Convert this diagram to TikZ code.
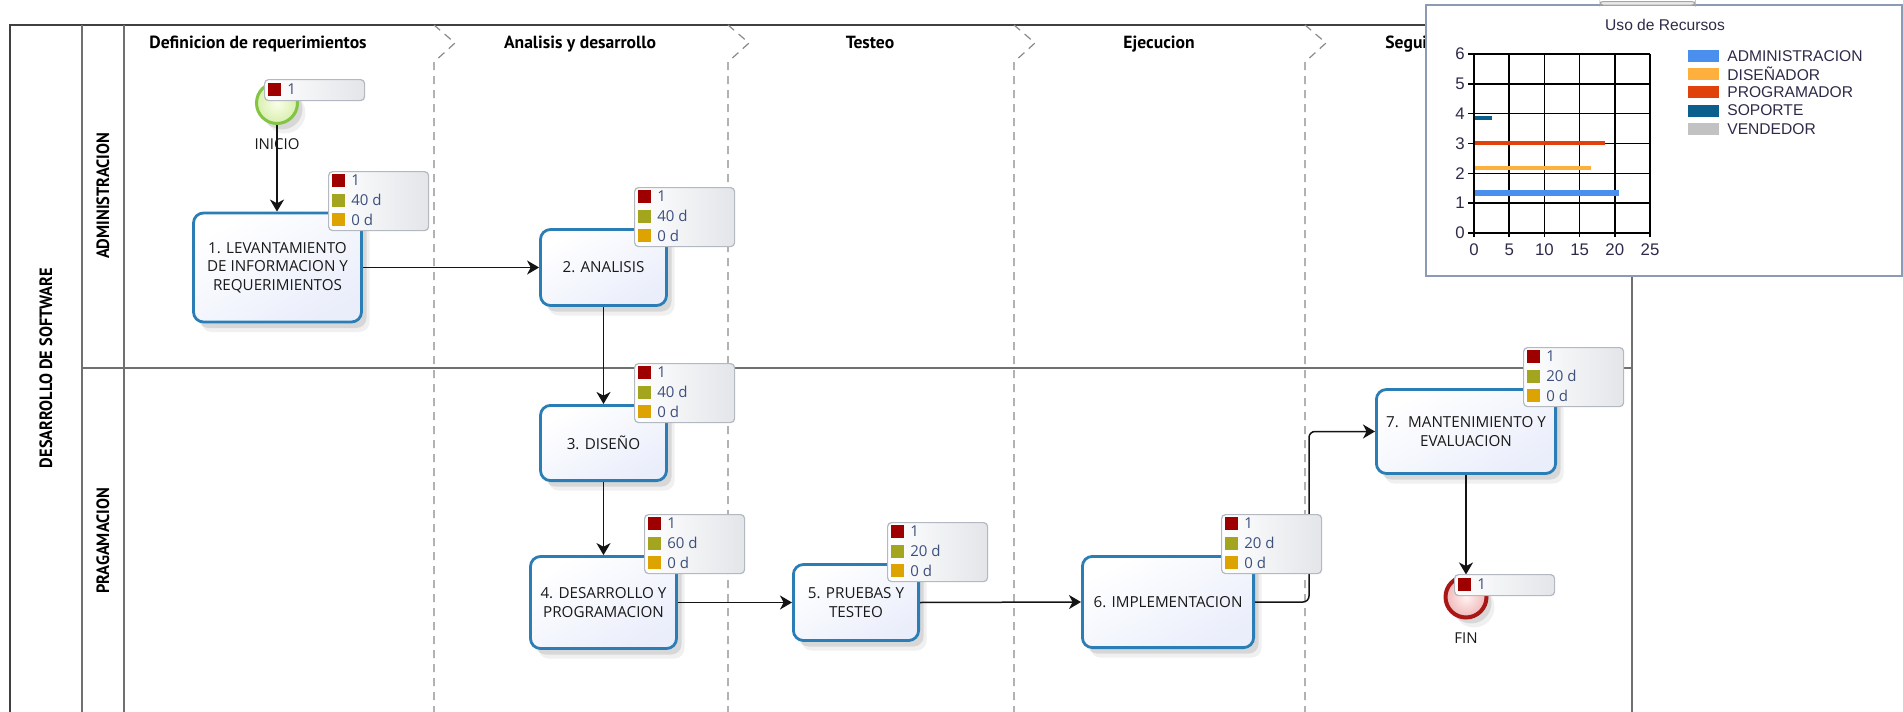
\documentclass[tikz,border=0pt]{standalone}
\usepackage{fontspec}
\setmainfont{Open Sans}
\newfontfamily\headfont{PT Sans}
\newfontfamily\lanefont[FakeStretch=0.92]{PT Sans}
\newfontfamily\chartfont{Liberation Sans}
\usetikzlibrary{arrows.meta,shadows,calc}

\definecolor{poolgray}{HTML}{707070}
\definecolor{phasegray}{HTML}{8A8A8A}
\definecolor{taskblue}{HTML}{2A7DB5}
\definecolor{tasklav}{HTML}{EAEEFB}
\definecolor{badgeline}{HTML}{B4B8C0}
\definecolor{badgegray}{HTML}{E3E5E9}
\definecolor{badgeink}{HTML}{3D4F7C}
\definecolor{resred}{HTML}{9E0000}
\definecolor{resolive}{HTML}{A3A51E}
\definecolor{resamber}{HTML}{DDA300}
\definecolor{startgreen}{HTML}{84C443}
\definecolor{startin}{HTML}{FBFDE8}
\definecolor{startout}{HTML}{D8EFAE}
\definecolor{endred}{HTML}{A81616}
\definecolor{endin}{HTML}{FFF2F2}
\definecolor{endout}{HTML}{F0B8B8}
\definecolor{chartblue}{HTML}{8C9BB2}
\definecolor{chartink}{HTML}{2F2A48}
\definecolor{barblue}{HTML}{4A8EEE}
\definecolor{barorange}{HTML}{FDB03E}
\definecolor{barred}{HTML}{E0420C}
\definecolor{barnavy}{HTML}{0B5F8D}
\definecolor{bargray}{HTML}{C2C2C2}

\tikzset{
  poolframe/.style={draw=black!75, line width=0.9pt},
  poolline/.style={draw=poolgray, line width=0.7pt},
  phasesep/.style={draw=phasegray, line width=0.6pt, dash pattern=on 4pt off 3pt},
  phasetitle/.style={font=\headfont\bfseries\fontsize{8.8}{10}\selectfont, inner sep=0pt, anchor=base},
  lanelabel/.style={font=\lanefont\bfseries\fontsize{8.9}{10}\selectfont, rotate=90, inner sep=0pt},
  softshadow/.style={
    drop shadow={shadow xshift=2.5pt, shadow yshift=-3pt, opacity=.10, fill=black},
    drop shadow={shadow xshift=4pt, shadow yshift=-5pt, opacity=.06, fill=black}},
  task/.style={draw=taskblue, line width=1.4pt, rounded corners=5pt,
    top color=white, bottom color=tasklav, shading angle=30,
    align=center, font=\fontsize{7.6}{9.3}\selectfont, text=black!90,
    inner sep=0pt, softshadow},
  startevent/.style={circle, draw=startgreen, line width=1.5pt, inner color=startin,
    outer color=startout, minimum size=20.5pt, inner sep=0pt, softshadow},
  endevent/.style={circle, draw=endred, line width=2pt, inner color=endin,
    outer color=endout, minimum size=20.5pt, inner sep=0pt, softshadow},
  evlabel/.style={font=\fontsize{7.5}{9}\selectfont, inner sep=0pt, text=black!90},
  flow/.style={draw=black!92, line width=0.75pt, -{Stealth[length=6pt,width=7pt,inset=1.8pt]}},
  badge/.style={draw=badgeline, line width=0.6pt, rounded corners=2pt,
    left color=white, right color=badgegray, inner sep=0pt, anchor=north west},
  swatch/.style={minimum size=6.5pt, inner sep=0pt, draw=none},
  btext/.style={text=badgeink, font=\fontsize{7.5}{8}\selectfont, inner sep=0pt, anchor=west},
  chartframe/.style={draw=chartblue, line width=1pt, fill=white},
  chartgrid/.style={draw=black, line width=0.8pt},
  charttext/.style={font=\chartfont\fontsize{7.8}{9}\selectfont, text=chartink, inner sep=0pt},
  axislab/.style={font=\chartfont\fontsize{8.4}{9}\selectfont, text=chartink, inner sep=0pt},
  bar/.style={line width=2.1pt},
}

% resource badge with three rows: name, top-left corner, three values
\newcommand{\tribadge}[5]{%
  \node[badge, minimum width=50pt, minimum height=29.5pt] (#1) at #2 {};
  \node[swatch, fill=resred]   (#1-sa) at ($(#1.north west)+(10.5,9.5)$) {};
  \node[swatch, fill=resolive] (#1-sb) at ($(#1.north west)+(10.5,29)$) {};
  \node[swatch, fill=resamber] (#1-sc) at ($(#1.north west)+(10.5,48.5)$) {};
  \node[btext] (#1-ta) at ($(#1.north west)+(23,9.5)$) {#3};
  \node[btext] (#1-tb) at ($(#1.north west)+(23,29)$) {#4};
  \node[btext] (#1-tc) at ($(#1.north west)+(23,48.5)$) {#5};
}
% resource badge with one row: name, top-left corner, value
\newcommand{\onebadge}[3]{%
  \node[badge, minimum width=50pt, minimum height=10.5pt] (#1) at #2 {};
  \node[swatch, fill=resred] (#1-sa) at ($(#1.north west)+(10.5,10.5)$) {};
  \node[btext] (#1-ta) at ($(#1.north west)+(23,10.5)$) {#3};
}

\begin{document}
\begin{tikzpicture}[x=0.5pt,y=-0.5pt]
\useasboundingbox (0,0) rectangle (1903,712);
\fill[white] (0,0) rectangle (1903,712);

% pool, lanes
\draw[poolframe] (10,712) -- (10,25) -- (1632,25);
\draw[poolline] (1632,25) -- (1632,712);
\draw[poolline] (82,25) -- (82,712);
\draw[poolline] (124,25) -- (124,712);
\draw[poolline] (82,368) -- (1632,368);

% phase separators
\foreach \d in {434,728,1014,1305}
  \draw[phasesep] (\d,25) -- (\d+21,43) -- (\d,62) -- (\d,712);

% phase titles
\node[phasetitle] (ph1) at (258,48) {Definicion de requerimientos};
\node[phasetitle] (ph2) at (580,48) {Analisis y desarrollo};
\node[phasetitle] (ph3) at (870,48) {Testeo};
\node[phasetitle] (ph4) at (1159,48) {Ejecucion};
\node[phasetitle, anchor=base west] (ph5) at (1385,48) {Segui};

% pool and lane names
\node[lanelabel] (poolname) at (46,368) {DESARROLLO DE SOFTWARE};
\node[lanelabel] (lane1) at (103,196) {ADMINISTRACION};
\node[lanelabel] (lane2) at (103,541) {PRAGAMACION};

% events
\node[startevent] (start) at (277,103) {};
\node[endevent] (finevent) at (1466,597) {};
\node[evlabel] (startlab) at (277,144) {INICIO};
\node[evlabel] (finlab) at (1466,638) {FIN};

% tasks
\node[task, minimum width=84pt, minimum height=54.5pt] (t1) at (277.5,267.5)
  {1. LEVANTAMIENTO\\DE INFORMACION Y\\REQUERIMIENTOS};
\node[task, minimum width=63pt, minimum height=38pt] (t2) at (603.5,267.5) {2. ANALISIS};
\node[task, minimum width=63pt, minimum height=37.6pt] (t3) at (603.5,443) {3. DISEÑO};
\node[task, minimum width=73pt, minimum height=46pt] (t4) at (603.5,602.5)
  {4. DESARROLLO Y\\PROGRAMACION};
\node[task, minimum width=62.6pt, minimum height=38pt] (t5) at (856,602.5)
  {5. PRUEBAS Y\\TESTEO};
\node[task, minimum width=85.6pt, minimum height=45.6pt] (t6) at (1168,602) {6. IMPLEMENTACION};
\node[task, minimum width=89.6pt, minimum height=42pt] (t7) at (1466,431.5)
  {7.~ MANTENIMIENTO Y\\EVALUACION};

% sequence flows
\draw[flow] (start.south) -- (start.south |- t1.north);
\draw[flow] (t1.east) -- (t2.west);
\draw[flow] (t2.south) -- (t3.north);
\draw[flow] (t3.south) -- (t4.north);
\draw[flow] (t4.east) -- (t5.west);
\draw[flow] (t5.east) -- (t6.west);
\draw[flow, rounded corners=3pt] (t6.east) -- ++(54,0) |- (t7.west);
\draw[flow] (t7.south) -- (finevent.north);

% resource badges
\onebadge{b0}{(264,79)}{1}
\tribadge{b1}{(328,171)}{1}{40 d}{0 d}
\tribadge{b2}{(634,187)}{1}{40 d}{0 d}
\tribadge{b3}{(634,363)}{1}{40 d}{0 d}
\tribadge{b4}{(644,514)}{1}{60 d}{0 d}
\tribadge{b5}{(887,522)}{1}{20 d}{0 d}
\tribadge{b6}{(1221,514)}{1}{20 d}{0 d}
\tribadge{b7}{(1523,347)}{1}{20 d}{0 d}
\onebadge{bf}{(1454,574)}{1}

% resource usage chart
\draw[chartframe] (1426,5) rectangle (1902,276);
\draw[draw=black!35, fill=black!8, line width=0.5pt, rounded corners=1.5pt] (1600,1.5) rectangle (1695,5);
\node[charttext] (ctitle) at (1665,25) {Uso de Recursos};
\begin{scope}[shift={(1474,233)}, x=3.52pt, y=14.915pt]
  \foreach \v in {0,5,...,25} {
    \draw[chartgrid] (\v,-0.14) -- (\v,6);
    \node[axislab] (xl\v) at (\v,-0.57) {\v};
  }
  \foreach \v in {0,...,6} {
    \draw[chartgrid] (-0.85,\v) -- (25,\v);
    \node[axislab, anchor=east] (yl\v) at (-1.25,\v) {\v};
  }
  \draw[bar, barblue, line width=2.8pt] (0.1,1.34) -- (20.6,1.34);
  \draw[bar, barorange] (0.1,2.18) -- (16.6,2.18);
  \draw[bar, barred] (0.1,3.02) -- (18.6,3.02);
  \draw[bar, barnavy] (0.1,3.86) -- (2.56,3.86);
\end{scope}
\foreach \c/\t/\y [count=\i] in {barblue/ADMINISTRACION/56, barorange/DISEÑADOR/74,
    barred/PROGRAMADOR/92, barnavy/SOPORTE/110.5, bargray/VENDEDOR/129} {
  \fill[\c] (1688,\y-6) rectangle (1719,\y+6);
  \node[charttext, anchor=west] (leg\i) at (1727,\y) {\t};
}
\end{tikzpicture}
\end{document}
